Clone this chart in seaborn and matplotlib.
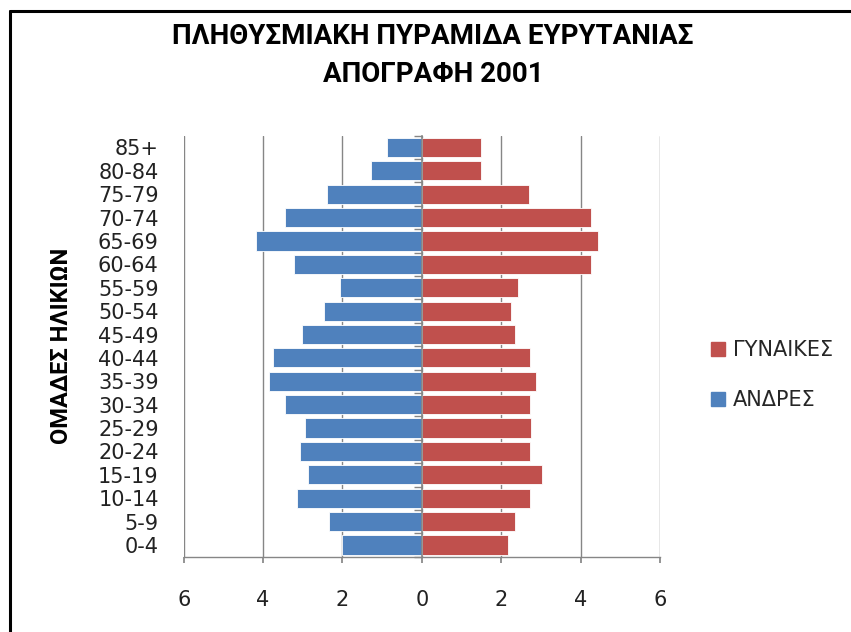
import numpy as np
import pandas as pd
import matplotlib
matplotlib.use("Agg")
import matplotlib.pyplot as plt
import seaborn as sns
from matplotlib.lines import Line2D
from matplotlib.patches import Patch

# Ηλικιακές ομάδες (από πάνω προς τα κάτω)
age_groups = ['85+', '80-84', '75-79', '70-74', '65-69', '60-64', '55-59', '50-54',
              '45-49', '40-44', '35-39', '30-34', '25-29', '20-24', '15-19', '10-14',
              '5-9', '0-4']
# ποσοστά %
men = [0.88, 1.27, 2.40, 3.46, 4.17, 3.23, 2.07, 2.46, 3.01, 3.75, 3.85, 3.46,
       2.94, 3.07, 2.88, 3.14, 2.33, 2.01]
women = [1.49, 1.49, 2.70, 4.27, 4.43, 4.27, 2.43, 2.24, 2.34, 2.72, 2.88, 2.72,
         2.75, 2.72, 3.02, 2.72, 2.34, 2.17]
x_ticks = [-6, -4, -2, 0, 2, 4, 6]
x_tick_labels = ['6', '4', '2', '0', '2', '4', '6']

title = 'ΠΛΗΘΥΣΜΙΑΚΗ ΠΥΡΑΜΙΔΑ ΕΥΡΥΤΑΝΙΑΣ\nΑΠΟΓΡΑΦΗ 2001'
ylabel = 'ΟΜΑΔΕΣ ΗΛΙΚΙΩΝ'
label_men = 'ΑΝΔΡΕΣ'
label_women = 'ΓΥΝΑΙΚΕΣ'

blue = '#4F81BD'
red = '#C0504D'
grid_col = '#868686'

df = pd.DataFrame({'age': age_groups, 'men': -np.array(men), 'women': women})

sns.set_theme(style='white')
plt.rcParams['font.family'] = ['DejaVu Sans']

fig = plt.figure(figsize=(8.51, 6.32), dpi=100)
ax = fig.add_axes([0.2159, 0.1191, 0.7756 - 0.2159, 0.7853 - 0.1191])

sns.barplot(data=df, x='men', y='age', order=age_groups, color=blue, orient='h',
            width=0.82, saturation=1, edgecolor='white', linewidth=0.6, ax=ax, zorder=3)
sns.barplot(data=df, x='women', y='age', order=age_groups, color=red, orient='h',
            width=0.82, saturation=1, edgecolor='white', linewidth=0.6, ax=ax, zorder=3)

ax.set_xlim(-6, 6)
ax.set_xticks(x_ticks)
ax.set_xticklabels(x_tick_labels)
ax.set_xlabel('')
ax.set_ylabel('')
ax.xaxis.grid(True, color=grid_col, linewidth=1, zorder=0)
ax.set_axisbelow(True)

# κάθετος άξονας στο 0 με σημάδια κατηγοριών
ylim = ax.get_ylim()
ax2 = ax.twinx()
ax2.set_ylim(ylim)
for s in ['top', 'left', 'bottom']:
    ax2.spines[s].set_visible(False)
ax2.spines['right'].set_position(('data', 0))
ax2.spines['right'].set_color(grid_col)
ax2.spines['right'].set_linewidth(1.2)
ax2.spines['right'].set_zorder(5)
ax2.set_yticks(np.arange(len(age_groups) + 1) - 0.5)
ax2.tick_params(axis='y', which='major', right=True, left=False, direction='in',
                length=6, width=1, color=grid_col, labelright=False, labelleft=False)
ax2.grid(False)

for s in ['top', 'right', 'left']:
    ax.spines[s].set_visible(False)
ax.spines['bottom'].set_color(grid_col)
ax.spines['bottom'].set_linewidth(1)
ax.tick_params(axis='x', bottom=True, direction='out', length=4, color=grid_col,
               labelsize=15, pad=20, labelcolor='#222222')
ax.tick_params(axis='y', left=False, right=False, length=0, labelsize=15, pad=18,
               labelcolor='#222222')
for lbl in ax.get_yticklabels() + ax.get_xticklabels():
    lbl.set_fontfamily('DejaVu Sans')

head_font = ['Roboto', 'DejaVu Sans']
fig.text(0.509, 0.9122, title, ha='center', va='center', fontsize=20,
         fontweight='bold', family=head_font, linespacing=1.55, color='black')
fig.text(62 / 851, 1 - 346 / 632, ylabel, rotation=90, ha='center', va='center',
         fontsize=17, fontweight='bold', family=head_font, color='black')

handles = [Patch(color=red, label=label_women), Patch(color=blue, label=label_men)]
fig.legend(handles=handles, loc='upper left', bbox_to_anchor=(711 / 851, 1 - 340 / 632),
           frameon=False, borderaxespad=0, borderpad=0,
           handlelength=0.65, handleheight=0.65, handletextpad=0.4, labelspacing=1.45,
           prop={'family': 'DejaVu Sans', 'size': 15})

# περίγραμμα
fig.add_artist(Line2D([10 / 851, 10 / 851], [0, 1 - 11 / 632], transform=fig.transFigure,
                      color='black', linewidth=2.2))
fig.add_artist(Line2D([10 / 851, 1], [1 - 11 / 632, 1 - 11 / 632], transform=fig.transFigure,
                      color='black', linewidth=2.2))

fig.savefig('out.png', dpi=100)
